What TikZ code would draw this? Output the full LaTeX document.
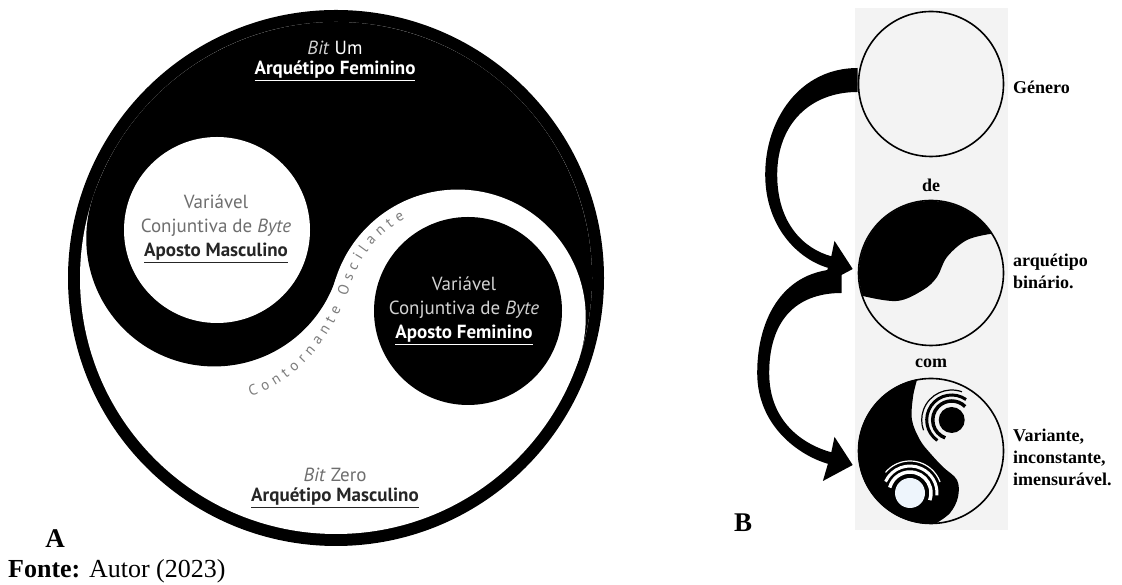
\documentclass[tikz,border=0pt]{standalone}
\usepackage{fontspec}
\setmainfont{Liberation Serif}
\setsansfont{PT Sans}
\usetikzlibrary{calc,decorations.text}

\definecolor{painel}{HTML}{F3F3F3}
\definecolor{cinzatexto}{HTML}{6E6E6E}
\definecolor{cinzaclaro}{HTML}{D2D2D2}
\definecolor{cinzacurva}{HTML}{7E7E7E}
\definecolor{pontoclaro}{HTML}{EEF5FC}

% seta curva grossa: #1 inicio, #2 ponta, #3 desvio para a esquerda
\newcommand{\setafat}[3]{%
  \coordinate (meio) at ($(#1)!0.5!(#2)+(-#3,0)$);
  \fill ($(#1)+(0,12)$) .. controls ($(#1)+(-58,12)$) and ($(meio)+(0,55)$) .. (meio)
    .. controls ($(meio)+(0,-52)$) and ($(#2)+(-55,10)$) .. ($(#2)+(-24.8,1.2)$)
    -- ($(#2)+(-29.8,-16)$) -- (#2) -- ($(#2)+(-18.2,28.1)$) -- ($(#2)+(-21.4,12.7)$)
    .. controls ($(#2)+(-48,20)$) and ($(meio)+(12,-50)$) .. ($(meio)+(12,0)$)
    .. controls ($(meio)+(12,50)$) and ($(#1)+(-48,-12)$) .. ($(#1)+(0,-12)$) -- cycle;}

\begin{document}
\begin{tikzpicture}[x=1pt, y=1pt,
    anel/.style={circle, draw, line width=1.6pt, minimum size=145pt, inner sep=0pt},
    rotulo/.style={font=\bfseries\fontsize{18}{22}\selectfont, align=left, anchor=west, inner sep=0pt},
    conector/.style={font=\bfseries\fontsize{18}{22}\selectfont, inner sep=0pt},
    texto/.style={font=\sffamily\fontsize{19}{24}\selectfont, align=center, inner sep=0pt},
    titulo/.style={font=\sffamily\bfseries\fontsize{19}{24}\selectfont, inner sep=0pt},
    letra/.style={font=\bfseries\fontsize{27}{27}\selectfont, anchor=base, inner sep=0pt}]
    \useasboundingbox (0,0) rectangle (1122,585);

    % Yin-yang (A)
    \coordinate (centro) at (336,307);
    \coordinate (cabeca) at ($(centro)+(162:128)$);
    \coordinate (cauda) at ($(centro)+(-18:128)$);
    \fill[black] (centro) circle[radius=268];
    \fill[white] (centro) circle[radius=256];
    \fill[black] ($(centro)+(-18:256)$) arc[start angle=-18, end angle=162, radius=256] -- cycle;
    \fill[black] (cabeca) circle[radius=128];
    \fill[white] (cauda) circle[radius=128];

    % Pontos
    \node[circle, fill=white, minimum size=186pt, inner sep=0pt] (pontobranco) at (217,355) {};
    \node[circle, fill=black, minimum size=188pt, inner sep=0pt] (pontopreto) at (468,274) {};

    % Textos
    \node[texto] (bitum) at (335,537) {\textcolor{cinzaclaro}{\textit{Bit}} \textcolor{white}{Um}};
    \node[titulo, text=white] (arqfem) at (335,514) {\underline{Arquétipo Feminino}};
    \node[texto] (tmasc) at (216,356) {\textcolor{cinzatexto}{Variável}\\
        \textcolor{cinzatexto}{Conjuntiva de \textit{Byte}}\\
        \textcolor{black!85}{\bfseries\underline{Aposto Masculino}}};
    \node[texto] (tfem) at (464,274) {\textcolor{cinzaclaro}{Variável}\\
        \textcolor{cinzaclaro}{Conjuntiva de \textit{Byte}}\\
        \textcolor{white}{\bfseries\underline{Aposto Feminino}}};
    \node[texto, text=cinzatexto] (bitzero) at (335,110) {\textit{Bit} Zero};
    \node[titulo, text=black!85] (arqmasc) at (335,87) {\underline{Arquétipo Masculino}};

    % Contornante
    \path[decorate, decoration={text along path, text align={fit to path},
        text={|\sffamily\fontsize{15}{15}\selectfont\color{cinzacurva}|Contornante Oscilante}}]
        (250.7,188.8) .. controls (301.1,205.2) and (334.9,251.7) .. (351.3,302.1)
        .. controls (360.3,329.7) and (379.5,352.7) .. (405.1,366.3);

    % Painel (B)
    \fill[painel] (855,55) rectangle (1008,577);

    \node[anel] (genero) at (931,501) {};
    \node[rotulo] (tgenero) at (1013,498) {Género};
    \node[conector] (tde) at (931,400) {de};

    \node[anel] (binario) at (931,312) {};
    \begin{scope}[shift={(binario.center)}]
        \fill (33:72) arc[start angle=33, end angle=199, radius=72]
            -- plot[smooth, tension=0.6] coordinates {(-68,-23) (-34,-28) (-8,-17) (6,-4) (16,16) (36,33) (60.4,39.2)} -- cycle;
    \end{scope}
    \node[rotulo] (tbinario) at (1013,314) {arquétipo\\binário.};
    \node[conector] (tcom) at (931,222) {com};

    \node[anel] (variante) at (931,134) {};
    \begin{scope}[shift={(variante.center)}]
        \fill (101:73) arc[start angle=101, end angle=273, radius=73]
            -- plot[smooth, tension=0.6] coordinates {(4,-73) (19,-62) (27,-46) (26,-29) (12,-16) (-1,-2) (-11,11) (-19,31) (-18,54) (-14,71)} -- cycle;
        % ponto preto e ondas
        \fill (20.7,31) circle[radius=13];
        \draw[line width=3.5pt] (20.7,31) ++(45:19) arc[start angle=45, end angle=250, radius=19];
        \draw[line width=3pt] (20.7,31) ++(55:25) arc[start angle=55, end angle=235, radius=25];
        \draw[line width=1.2pt] (20.7,31) ++(70:30) arc[start angle=70, end angle=200, radius=30];
        % ponto branco e ondas
        \fill[pontoclaro] (-21,-42) circle[radius=15];
        \draw[white, line width=3.5pt] (-21,-42) ++(165:21) arc[start angle=165, end angle=-20, radius=21];
        \draw[white, line width=3pt] (-21,-42) ++(155:27) arc[start angle=155, end angle=-5, radius=27];
        \draw[white, line width=1.2pt] (-21,-42) ++(140:32) arc[start angle=140, end angle=20, radius=32];
    \end{scope}
    \node[rotulo] (tvariante) at (1013,128) {Variante,\\inconstante,\\imensurável.};

    % Setas
    \coordinate (s1) at ($(genero.west)+(0,4)$);
    \coordinate (p1) at ($(binario.west)+(-5,4)$);
    \coordinate (s2) at ($(binario.west)+(-16,-8)$);
    \coordinate (p2) at ($(variante.west)+(-5,-14)$);
    \setafat{s1}{p1}{90}
    \setafat{s2}{p2}{90}

    % Legendas
    \node[letra] (la) at (55,37) {A};
    \node[letra] (lb) at (743,53) {B};
    \node[anchor=base west, inner sep=0pt, font=\fontsize{26}{26}\selectfont] (fonte) at (8,7) {\textbf{Fonte:} Autor (2023)};
\end{tikzpicture}
\end{document}
